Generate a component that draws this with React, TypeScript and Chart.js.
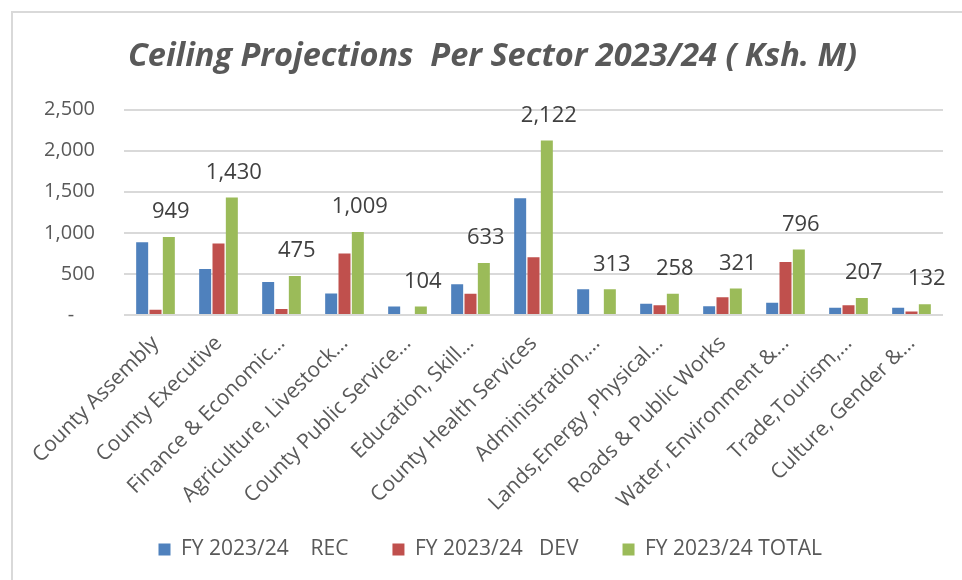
import React, { useEffect, useRef } from 'react';
import { Chart, registerables } from 'chart.js';

Chart.register(...registerables);

const categories = [
  'County Assembly',
  'County Executive',
  'Finance & Economic…',
  'Agriculture, Livestock…',
  'County Public Service…',
  'Education, Skill…',
  'County Health Services',
  'Administration,…',
  'Lands,Energy ,Physical…',
  'Roads & Public Works',
  'Water, Environment &…',
  'Trade,Tourism,…',
  'Culture, Gender &…',
];
const recValues = [886, 560, 402, 262, 104, 373, 1420, 313, 138, 106, 150, 88, 89];
const devValues = [63, 870, 73, 747, 0, 260, 702, 0, 120, 215, 646, 119, 43];
const totalValues = [949, 1430, 475, 1009, 104, 633, 2122, 313, 258, 321, 796, 207, 132];
const seriesNames = ['FY 2023/24    REC', 'FY 2023/24   DEV', 'FY 2023/24 TOTAL'];
const titleText = 'Ceiling Projections  Per Sector 2023/24 ( Ksh. M)';

const FONT = '"Open Sans", "DejaVu Sans", sans-serif';
const TEXT = '#595959';
const LEGEND_PAD = 44;

const totalLabels = {
  id: 'totalLabels',
  afterLayout(chart: any) {
    const lg = chart.legend;
    if (lg && lg.lineWidths) {
      const x0 = (lg.left + LEGEND_PAD + lg.right - lg.lineWidths[0]) / 2;
      const d = 158.5 - x0;
      lg.left += d;
      lg.right += d;
    }
    const t = chart.titleBlock;
    if (t) {
      t.left += 15;
      t.right += 15;
    }
  },
  afterDatasetsDraw(chart: any) {
    const meta = chart.getDatasetMeta(2);
    const ctx = chart.ctx;
    ctx.save();
    ctx.font = `22px ${FONT}`;
    ctx.fillStyle = '#404040';
    ctx.textAlign = 'center';
    ctx.textBaseline = 'middle';
    meta.data.forEach((el: any, i: number) => {
      ctx.fillText(totalValues[i].toLocaleString('en-US'), el.x + 2, el.y - 25);
    });
    ctx.restore();
  },
};

export default function App() {
  const ref = useRef<HTMLCanvasElement>(null);
  useEffect(() => {
    const chart = new Chart(ref.current as HTMLCanvasElement, {
      type: 'bar',
      data: {
        labels: categories,
        datasets: [
          { label: seriesNames[0], data: recValues, backgroundColor: '#4F81BD' },
          { label: seriesNames[1], data: devValues, backgroundColor: '#C0504D' },
          { label: seriesNames[2], data: totalValues, backgroundColor: '#9BBB59' },
        ],
      },
      options: {
        responsive: false,
        animation: false,
        datasets: { bar: { categoryPercentage: 0.635, barPercentage: 0.9 } },
        layout: { padding: { left: 12, right: 19, top: 0, bottom: 10 } },
        plugins: {
          title: {
            display: true,
            text: titleText,
            color: TEXT,
            font: { family: FONT, size: 32.5, weight: 'bold', style: 'italic' },
            padding: { top: 37.5, bottom: 33 },
          },
          legend: {
            position: 'bottom',
            labels: {
              color: TEXT,
              font: { family: FONT, size: 21 },
              boxWidth: 12,
              boxHeight: 12,
              padding: LEGEND_PAD,
            },
          },
          tooltip: { enabled: false },
        },
        scales: {
          x: {
            grid: { display: false, drawTicks: false },
            border: { display: false },
            ticks: {
              color: TEXT,
              font: { family: FONT, size: 21 },
              maxRotation: 45,
              minRotation: 45,
              autoSkip: false,
              padding: 16,
            },
            afterFit: (scale: any) => {
              scale.height = 180;
              scale.paddingLeft = 0;
              scale.paddingRight = 0;
              scale._computeLabelArea = () => undefined;
            },
          },
          y: {
            min: 0,
            max: 2500,
            grid: { color: '#d9d9d9', lineWidth: 2, drawTicks: false },
            border: { display: false },
            ticks: {
              stepSize: 500,
              color: TEXT,
              font: { family: FONT, size: 20 },
              padding: 29,
              callback: (v: any) => (v === 0 ? '-    ' : Number(v).toLocaleString('en-US')),
            },
            afterFit: (scale: any) => {
              scale.width = 112;
            },
          },
        },
      },
      plugins: [totalLabels],
    } as any);
    return () => chart.destroy();
  }, []);
  return (
    <div style={{ position: 'fixed', left: 0, top: 0, width: 962, height: 580, background: '#fff', overflow: 'hidden' }}>
      <div style={{ position: 'absolute', left: 11, top: 11, width: 2000, height: 2000, border: '2px solid #d9d9d9' }} />
      <canvas ref={ref} width={962} height={580} style={{ position: 'absolute', left: 0, top: 0, width: 962, height: 580 }} />
    </div>
  );
}
